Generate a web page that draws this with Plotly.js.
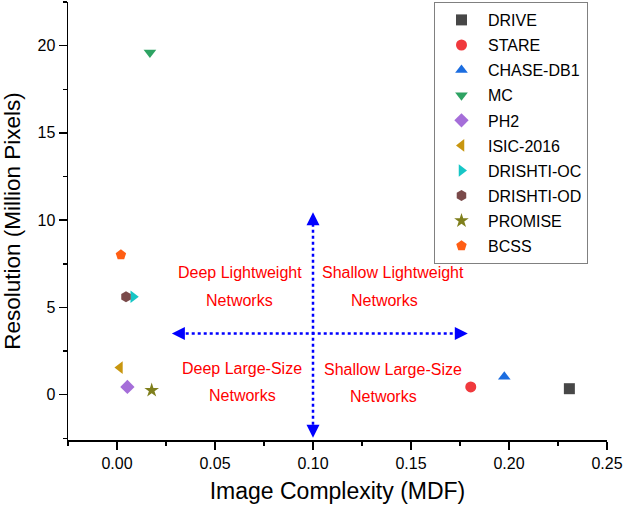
<!DOCTYPE html>
<html>
<head>
<meta charset="utf-8">
<script src="https://cdn.plot.ly/plotly-3.0.1.min.js"></script>
<style>html,body{margin:0;padding:0;background:#fff;}#chart{width:629px;height:508px;}</style>
</head>
<body>
<div id="chart"></div>
<script>
// Dataset names
const datasets = ["DRIVE","STARE","CHASE-DB1","MC","PH2","ISIC-2016","DRISHTI-OC","DRISHTI-OD","PROMISE","BCSS"];
// Image complexity (MDF)
const mdf = [0.2308, 0.1805, 0.1976, 0.0168, 0.0053, 0.0015, 0.0083, 0.0046, 0.0177, 0.0020];
// Resolution (million pixels)
const resolution = [0.34, 0.44, 1.02, 19.6, 0.44, 1.55, 5.61, 5.61, 0.25, 8.01];
const symbols = ["square","circle","triangle-up","triangle-down","diamond","triangle-left","triangle-right","hexagon","star","pentagon"];
const colors = ["#474747","#f0393d","#1b6de0","#2ea363","#a56ed9","#c8960f","#17c6c6","#7a4a4a","#7f7f1c","#ff5e14"];

// Quadrant labels
const quadLabels = ["Deep Lightweight","Networks","Shallow Lightweight","Networks","Deep Large-Size","Networks","Shallow Large-Size","Networks"];
const quadX = [0.0628, 0.0625, 0.1410, 0.1367, 0.0639, 0.0641, 0.1407, 0.1362];
const quadY = [7.01, 5.42, 7.01, 5.40, 1.52, -0.07, 1.46, -0.13];

// Dividing arrows
const hArrow = {x0: 0.028, x1: 0.179, y: 3.5};
const vArrow = {x: 0.100, y0: -2.47, y1: 10.45};

const FONT = "Arial, 'Liberation Sans', sans-serif";

const traces = datasets.map((name, i) => ({
  type: "scatter",
  mode: "markers",
  name: name,
  x: [mdf[i]],
  y: [resolution[i]],
  legendgroup: "g" + i,
  marker: {symbol: symbols[i], color: colors[i], size: 11, line: {width: 0}}
}));

const annotations = quadLabels.map((t, i) => ({
  x: quadX[i], y: quadY[i], xref: "x", yref: "y",
  text: t, showarrow: false,
  font: {family: FONT, size: 16, color: "#ff0000"}
}));

// arrowheads
function head(x, y, ax, ay) {
  return {x: x, y: y, ax: ax, ay: ay, xref: "x", yref: "y", axref: "x", ayref: "y",
    text: "", showarrow: true, arrowhead: 2, arrowsize: 1.3, arrowwidth: 2,
    arrowcolor: "#0000ff", standoff: 0, startstandoff: 0};
}
annotations.push(head(hArrow.x0, hArrow.y, hArrow.x0 + 0.006, hArrow.y));
annotations.push(head(hArrow.x1, hArrow.y, hArrow.x1 - 0.006, hArrow.y));
annotations.push(head(vArrow.x, vArrow.y1, vArrow.x, vArrow.y1 - 0.6));
annotations.push(head(vArrow.x, vArrow.y0, vArrow.x, vArrow.y0 + 0.6));

const shapes = [
  {type: "line", xref: "x", yref: "y", x0: hArrow.x0 + 0.004, x1: hArrow.x1 - 0.004, y0: hArrow.y, y1: hArrow.y,
   line: {color: "#0000ff", width: 2.5, dash: "dot"}},
  {type: "line", xref: "x", yref: "y", x0: vArrow.x, x1: vArrow.x, y0: vArrow.y0 + 0.4, y1: vArrow.y1 - 0.4,
   line: {color: "#0000ff", width: 2.5, dash: "dot"}}
];

const layout = {
  width: 629, height: 508,
  margin: {l: 68, r: 22, t: 2, b: 68},
  paper_bgcolor: "#ffffff", plot_bgcolor: "#ffffff",
  font: {family: FONT, color: "#000000"},
  showlegend: true,
  legend: {
    x: 0.679, y: 1.0, xanchor: "left", yanchor: "top",
    bordercolor: "#808080", borderwidth: 1, bgcolor: "#ffffff",
    font: {family: FONT, size: 16, color: "#000000"},
    tracegroupgap: 1.3, itemwidth: 43
  },
  xaxis: {
    range: [-0.025, 0.25], showgrid: false, zeroline: false,
    showline: true, linecolor: "#000000", linewidth: 1.5,
    ticks: "outside", ticklen: 8, tickwidth: 1.5, tickcolor: "#000000",
    tick0: 0, dtick: 0.05, tickformat: ".2f",
    minor: {ticks: "outside", ticklen: 4, tickwidth: 1.5, tickcolor: "#000000", dtick: 0.025, tick0: 0},
    tickfont: {family: FONT, size: 16, color: "#000000"},
    title: {text: "Image Complexity (MDF)", font: {family: FONT, size: 23, color: "#000000"}, standoff: 12}
  },
  yaxis: {
    range: [-2.6, 22.5], showgrid: false, zeroline: false,
    showline: true, linecolor: "#000000", linewidth: 1.5,
    ticks: "outside", ticklen: 8, tickwidth: 1.5, tickcolor: "#000000",
    tick0: 0, dtick: 5,
    minor: {ticks: "outside", ticklen: 4, tickwidth: 1.5, tickcolor: "#000000", dtick: 2.5, tick0: 0},
    tickfont: {family: FONT, size: 16, color: "#000000"},
    title: {text: "Resolution (Million Pixels)", font: {family: FONT, size: 22.5, color: "#000000"}, standoff: 12}
  },
  annotations: annotations,
  shapes: shapes
};

Plotly.newPlot("chart", traces, layout, {staticPlot: true, displayModeBar: false});
</script>
</body>
</html>
